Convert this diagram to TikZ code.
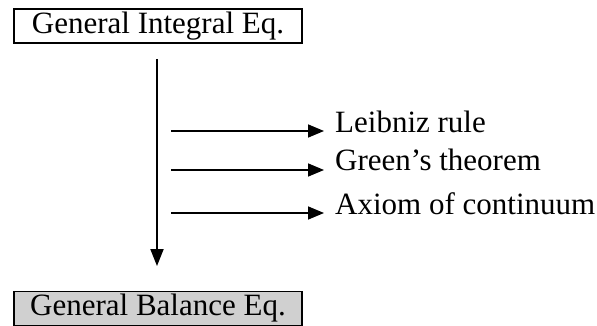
\documentclass[tikz,border=0pt]{standalone}
\usepackage{fontspec}
\setmainfont{Liberation Serif}
\usetikzlibrary{arrows.meta}
\definecolor{boxgray}{RGB}{208,208,208}
\tikzset{
  eqbox/.style={draw, line width=1.3pt, minimum width=288pt, minimum height=34pt, inner sep=0pt, font=\fontsize{31}{32}\selectfont},
  lab/.style={anchor=base west, inner sep=0pt, font=\fontsize{31}{32}\selectfont},
  arr/.style={line width=1.6pt, -{Triangle[length=16pt,width=13pt]}}
}
\begin{document}
\begin{tikzpicture}[x=1pt,y=-1pt]
\useasboundingbox (0,0) rectangle (597,326);
\node[eqbox] (top) at (158,26) {General Integral Eq.};
\node[eqbox, fill=boxgray] (bot) at (158,308.5) {General Balance Eq.};
\coordinate (vs) at (157,59);
\coordinate (ve) at (157,266);
\draw[line width=2pt, -{Triangle[length=17pt,width=13pt]}] (vs) -- (ve);
\node[lab] (l1) at (335,133) {Leibniz rule};
\node[lab] (l2) at (335,171) {Green’s theorem};
\node[lab] (l3) at (335,214) {Axiom of continuum};
\coordinate (s1) at (171,131);
\coordinate (s2) at (171,170);
\coordinate (s3) at (171,213);
\coordinate (e1) at (324,131);
\coordinate (e2) at (324,170);
\coordinate (e3) at (324,213);
\draw[arr] (s1) -- (e1);
\draw[arr] (s2) -- (e2);
\draw[arr] (s3) -- (e3);
\end{tikzpicture}
\end{document}
